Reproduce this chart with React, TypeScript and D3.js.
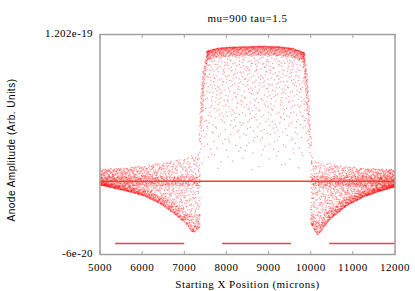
import React from 'react';
import * as d3 from 'd3';

const W = 415;
const H = 291;

const title = 'mu=900 tau=1.5';
const xLabel = 'Starting X Position (microns)';
const yLabel = 'Anode Amplitude (Arb. Units)';
const xDomain = [5000, 12000];
const yDomain = [-6e-20, 1.202e-19];
const xTicks = [5000, 6000, 7000, 8000, 9000, 10000, 11000, 12000];
const yTickValues = [1.202e-19, -6e-20];
const yTickLabels = ['1.202e-19', '-6e-20'];

// Envelopes (x in microns, amplitude in units of 1e-20)
const leftX = [5000, 5660, 6070, 6460, 6780, 7020, 7180, 7230, 7380];
const leftUpper = [1.0, 1.1, 1.3, 1.5, 1.7, 1.9, 2.1, 2.2, 2.2];
const leftLower = [-0.3, -0.82, -1.22, -1.9, -2.7, -3.4, -4.1, -4.2, -3.7];

const rightX = [10000, 10100, 10180, 10458, 10855, 11240, 11645, 12000];
const rightUpper = [1.6, 1.6, 1.55, 1.45, 1.2, 1.1, 1.0, 0.95];
const rightLower = [-3.4, -4.1, -4.4, -3.1, -2.0, -1.3, -0.8, -0.45];

const plateauX = [7530, 7800, 8085, 8870, 9300, 9580, 9865];
const plateauTop = [10.65, 10.9, 10.98, 11.06, 11.0, 10.87, 10.52];

const leftEdgeV = [1.0, 1.2, 4.8, 7.5, 8.9, 10.79];
const leftEdgeX = [7330, 7333, 7373, 7413, 7452, 7560];
const rightEdgeV = [0.7, 2.6, 4.8, 8.9, 10.6];
const rightEdgeX = [10055, 10020, 9983, 9903, 9830];

// Point counts per region (estimated from the picture's density)
const countLeft = 2000;
const countRight = 2000;
const countTopBand = 850;
const countInterior = 750;
const countEdge = 110;

// Flat segments of densely stacked points
const segX0 = [5000, 5360, 7900, 10440];
const segX1 = [12000, 7000, 9530, 12000];
const segV = [0, -5.1e-20, -5.1e-20, -5.1e-20];

function halton(i: number, b: number) {
  let f = 1, r = 0;
  while (i > 0) { f /= b; r += f * (i % b); i = Math.floor(i / b); }
  return r;
}
const pw = (xs: number[], ys: number[]) => d3.scaleLinear().domain(xs).range(ys).clamp(true);

function buildPoints(): [number, number][] {
  const pts: [number, number][] = [];
  let idx = 1;
  const side = (xs: number[], up: number[], lo: number[], n: number) => {
    const fu = pw(xs, up), fl = pw(xs, lo);
    const x0 = xs[0], x1 = xs[xs.length - 1];
    for (let k = 0; k < n; k++) {
      const i = idx++;
      const x = x0 + (x1 - x0) * halton(i, 2);
      const u = halton(i, 3), m = halton(i, 5);
      const a = fu(x), b = fl(x);
      let v: number;
      if (m < 0.28) v = b + (a - b) * 0.2 * u * u;
      else if (m < 0.45) v = Math.max(b, Math.min(a, (u - 0.5) * 0.8));
      else v = b + (a - b) * u;
      pts.push([x, v]);
    }
  };
  side(leftX, leftUpper, leftLower, countLeft);
  side(rightX, rightUpper, rightLower, countRight);

  const top = pw(plateauX, plateauTop);
  const xl = pw(leftEdgeV, leftEdgeX);
  const xr = pw(rightEdgeV, rightEdgeX);
  const px0 = plateauX[0], px1 = plateauX[plateauX.length - 1];
  for (let k = 0; k < countTopBand; k++) {
    const i = idx++;
    const x = px0 + (px1 - px0) * halton(i, 2);
    const u = halton(i, 3);
    pts.push([x, top(x) - 0.75 * Math.pow(u, 1.8)]);
  }
  for (let k = 0; k < countInterior; k++) {
    const i = idx++;
    const x = 7330 + (10060 - 7330) * halton(i, 2);
    const u = halton(i, 3);
    const d = 1 - Math.sqrt(1 - u);
    const t = x < px0 ? top(px0) : x > px1 ? top(px1) : top(x);
    const v = 0.6 + (t - 0.6) * (1 - d);
    if (x < xl(v) || x > xr(v)) continue;
    pts.push([x, v]);
  }
  for (let k = 0; k < countEdge; k++) {
    const i = idx++;
    const u = halton(i, 3), m = halton(i, 2);
    const v1 = 1.0 + (10.7 - 1.0) * Math.sqrt(u);
    pts.push([xl(v1) + (m - 0.2) * 70, v1]);
    const v2 = 0.7 + (10.5 - 0.7) * Math.sqrt(u);
    pts.push([xr(v2) - (m - 0.2) * 70, v2]);
  }
  return pts;
}

const points = buildPoints();

export default function App() {
  const x = d3.scaleLinear().domain(xDomain).range([100, 395]);
  const y = d3.scaleLinear().domain(yDomain).range([254.5, 34.5]);
  const serif = "'Liberation Serif', 'DejaVu Serif', serif";
  const sans = "'Liberation Sans', 'DejaVu Sans', sans-serif";
  return (
    <svg width={W} height={H} style={{ position: 'fixed', left: 0, top: 0, background: '#fff' }}>
      <rect x={0} y={0} width={W} height={H} fill="#fff" />
      <g>
        {points.map((p, i) => (
          <rect key={i} x={x(p[0]) - 0.6} y={y(p[1] * 1e-20) - 0.6} width={1.2} height={1.2} fill="#ff0000" fillOpacity={0.4} />
        ))}
      </g>
      {segV.map((v, i) => (
        <line key={i} x1={x(segX0[i])} x2={x(segX1[i])} y1={y(v)} y2={y(v)} stroke="#ff3b3b" strokeWidth={1.5} />
      ))}
      <rect x={100} y={34.5} width={295} height={220} fill="none" stroke="#a0a0a0" strokeWidth={1.5} />
      {xTicks.map((t) => (
        <g key={t}>
          <line x1={x(t)} x2={x(t)} y1={254.5} y2={251} stroke="#a0a0a0" strokeWidth={1} />
          <line x1={x(t)} x2={x(t)} y1={34.5} y2={38} stroke="#a0a0a0" strokeWidth={1} />
          <text x={x(t)} y={268} textAnchor="middle" dominantBaseline="middle" style={{ fontFamily: serif, fontSize: 11, letterSpacing: 0.5 }}>{t}</text>
        </g>
      ))}
      {yTickValues.map((v, i) => (
        <text key={i} x={93} y={y(v)} textAnchor="end" dominantBaseline="middle" style={{ fontFamily: serif, fontSize: 11, letterSpacing: 0.4 }}>{yTickLabels[i]}</text>
      ))}
      <text x={247.5} y={19} textAnchor="middle" dominantBaseline="middle" style={{ fontFamily: serif, fontSize: 11, letterSpacing: 0.5 }}>{title}</text>
      <text x={247.5} y={285} textAnchor="middle" dominantBaseline="middle" style={{ fontFamily: serif, fontSize: 11, letterSpacing: 0.5 }}>{xLabel}</text>
      <text transform="translate(12,150) rotate(-90)" textAnchor="middle" dominantBaseline="middle" style={{ fontFamily: sans, fontSize: 10, letterSpacing: 0.5 }}>{yLabel}</text>
    </svg>
  );
}
